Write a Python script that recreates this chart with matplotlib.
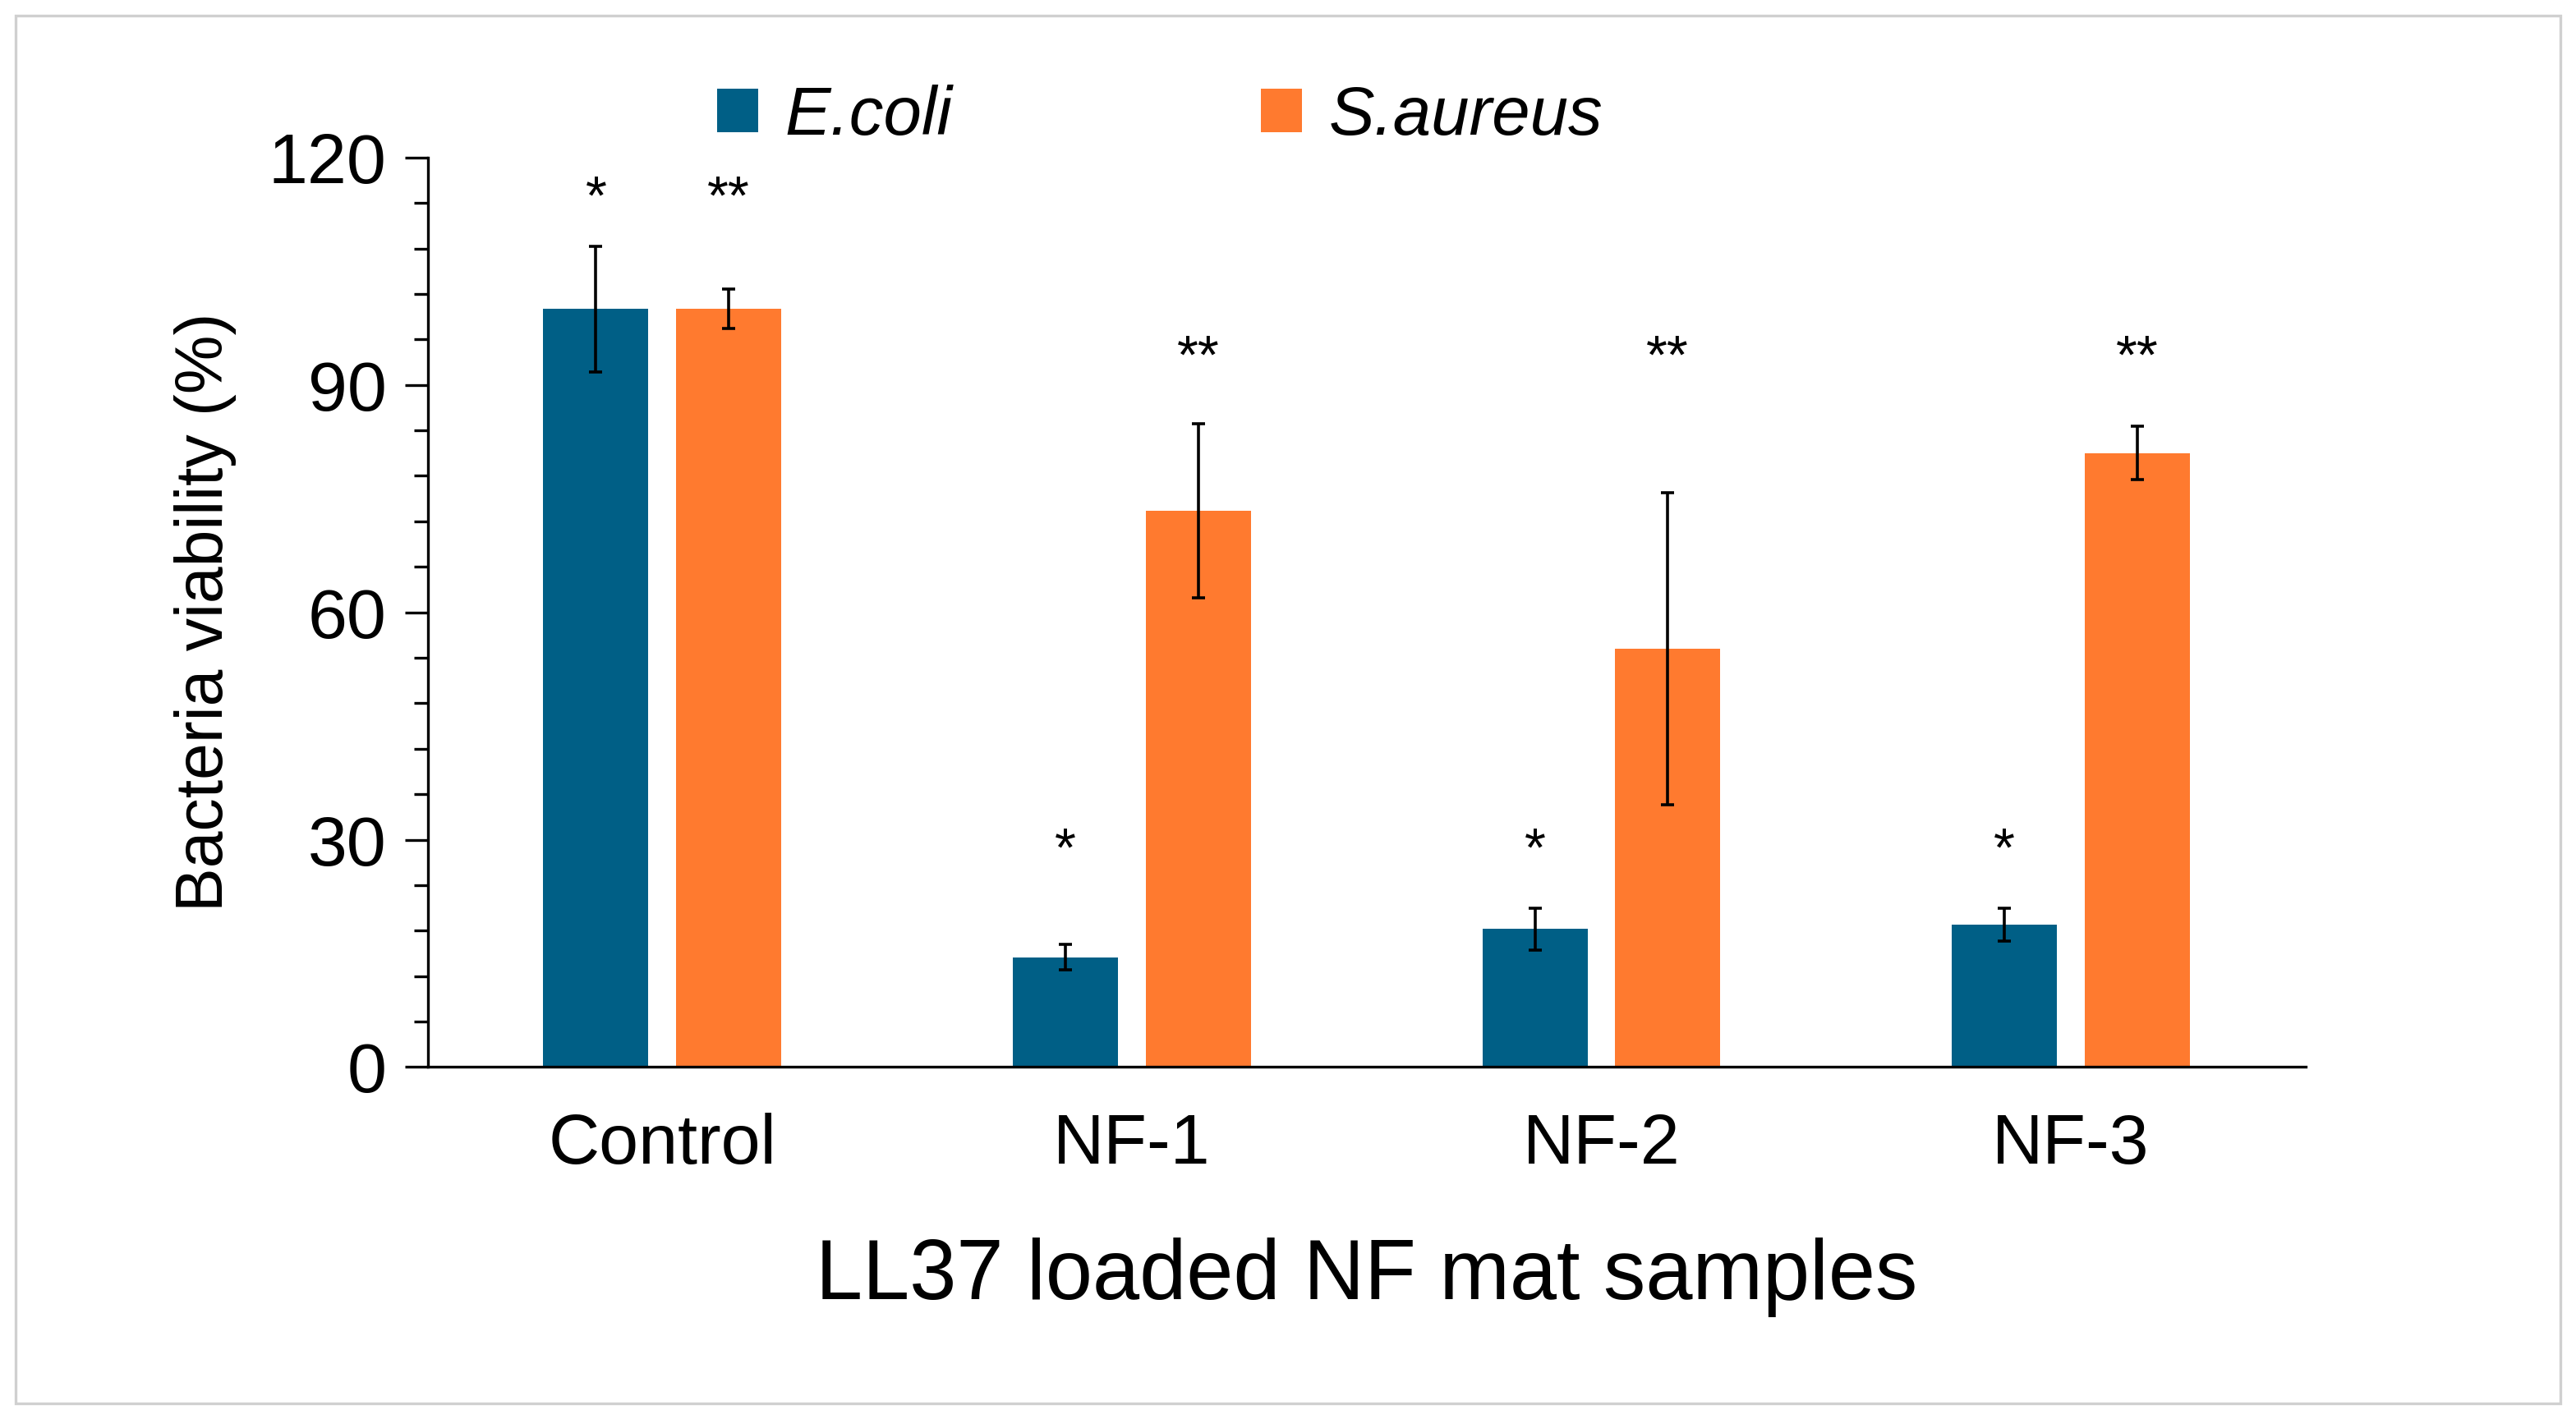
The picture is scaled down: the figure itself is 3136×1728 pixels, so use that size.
import matplotlib.pyplot as plt
import numpy as np
from matplotlib.patches import Rectangle

categories = ["Control", "NF-1", "NF-2", "NF-3"]
ecoli = [100, 14.5, 18.2, 18.8]
ecoli_err = [8.3, 1.7, 2.8, 2.2]
saureus = [100, 73.4, 55.2, 81.0]
saureus_err = [2.6, 11.5, 20.6, 3.5]
ecoli_marks = ["*", "*", "*", "*"]
saureus_marks = ["**", "**", "**", "**"]
ecoli_mark_y = [111, 25, 25, 25]
saureus_mark_y = [111, 90, 90, 90]

c_ecoli = "#005f86"
c_saureus = "#ff7a2f"

plt.rcParams["font.family"] = "Liberation Sans"
fig = plt.figure(figsize=(15.68, 8.64), dpi=200)
fig.patches.append(Rectangle((0.006, 0.011), 0.988, 0.978, transform=fig.transFigure,
                             fill=False, edgecolor="#d0d0d0", linewidth=1.2))
ax = fig.add_axes([0.166, 0.248, 0.729, 0.641])

x = np.arange(len(categories))
w, off = 0.224, 0.1415
ax.bar(x - off, ecoli, w, color=c_ecoli, label="E.coli",
       yerr=ecoli_err, capsize=3, error_kw=dict(elinewidth=1.3, capthick=1.3))
ax.bar(x + off, saureus, w, color=c_saureus, label="S.aureus",
       yerr=saureus_err, capsize=3, error_kw=dict(elinewidth=1.3, capthick=1.3))

for i in range(len(categories)):
    ax.text(x[i] - off, ecoli_mark_y[i], ecoli_marks[i], ha="center", va="bottom", fontsize=24)
    ax.text(x[i] + off, saureus_mark_y[i], saureus_marks[i], ha="center", va="bottom", fontsize=24)

ax.set_xlim(-0.5, 3.5)
ax.set_ylim(0, 120)
ax.set_yticks(np.arange(0, 121, 30))
ax.set_yticks(np.arange(0, 121, 6), minor=True)
ax.set_xticks(x)
ax.set_xticklabels(categories)
ax.tick_params(axis="y", labelsize=31, direction="out", length=10, width=1.2, pad=8)
ax.tick_params(axis="y", which="minor", length=6, width=1.2)
ax.tick_params(axis="x", labelsize=31, length=0, pad=20)
for s in ["top", "right"]:
    ax.spines[s].set_visible(False)
ax.spines["left"].set_linewidth(1.2)
ax.spines["bottom"].set_linewidth(1.2)

ax.set_ylabel("Bacteria viability (%)", fontsize=29, labelpad=14)
ax.set_xlabel("LL37 loaded NF mat samples", fontsize=37, labelpad=26)

ax.legend(loc="center", bbox_to_anchor=(0.39, 1.045), ncol=2, frameon=False,
          handlelength=0.6, handleheight=0.6, columnspacing=4.5,
          handletextpad=0.4, prop={"style": "italic", "size": 30})

fig.savefig("out.png", dpi=200)
